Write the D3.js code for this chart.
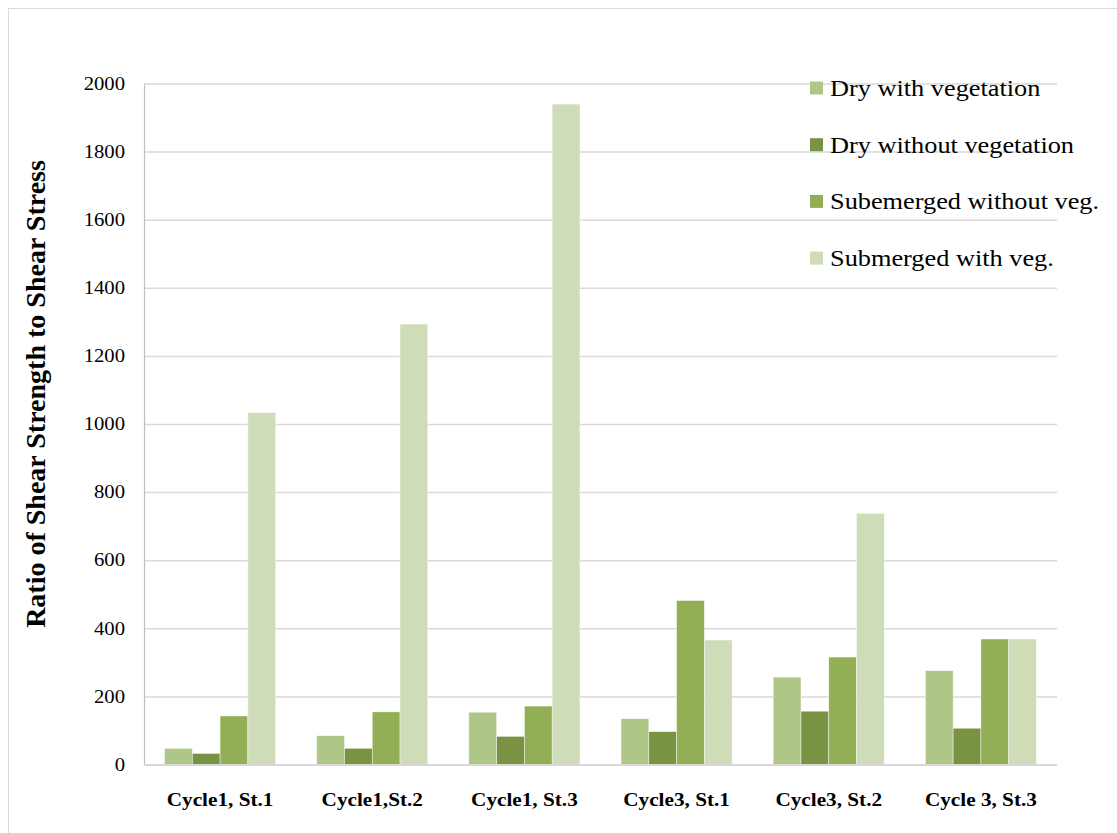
<!DOCTYPE html>
<html>
<head>
<meta charset="utf-8">
<script src="https://cdn.jsdelivr.net/npm/d3@7"></script>
<style>
  html, body { margin: 0; padding: 0; background: #fff; }
  svg text { font-family: "Liberation Serif", "Times New Roman", serif; fill: #000; }
</style>
</head>
<body>
<svg id="chart" width="1117" height="833"></svg>
<script>
// Sites / cycles on the x axis
const categories = ["Cycle1, St.1", "Cycle1,St.2", "Cycle1, St.3", "Cycle3, St.1", "Cycle3, St.2", "Cycle 3, St.3"];

// Series names (legend order = bar order within a group)
const seriesNames = ["Dry with vegetation", "Dry without vegetation", "Subemerged without veg.", "Submerged with veg."];

// Ratio of shear strength to shear stress, one array per series
const dryWithVeg       = [49, 86, 155, 136, 258, 277];
const dryWithoutVeg    = [34, 49, 84, 98, 158, 108];
const subWithoutVeg    = [144, 156, 173, 483, 317, 370];
const subWithVeg       = [1035, 1295, 1941, 367, 739, 370];

const yTicks = [0, 200, 400, 600, 800, 1000, 1200, 1400, 1600, 1800, 2000];

const seriesValues = [dryWithVeg, dryWithoutVeg, subWithoutVeg, subWithVeg];
const colors = ["#aec686", "#7a9343", "#92af55", "#cedcb7"];

const serif = '"Liberation Serif", "Times New Roman", serif';
const svg = d3.select("#chart");

// outer frame
svg.append("rect")
  .attr("x", 8.5).attr("y", 8.5)
  .attr("width", 1130).attr("height", 840)
  .attr("fill", "none").attr("stroke", "#d9d9d9").attr("stroke-width", 1);

const plot = { left: 144, right: 1057, top: 84, bottom: 765 };

const x0 = d3.scaleBand().domain(categories).range([plot.left, plot.right]).padding(0);
const groupWidth = x0.bandwidth() * 0.73;
const x1 = d3.scaleBand().domain(d3.range(seriesNames.length)).range([0, groupWidth]).padding(0);
const y = d3.scaleLinear().domain([0, 2000]).range([plot.bottom, plot.top]);

// horizontal gridlines
svg.append("g")
  .selectAll("line")
  .data(yTicks.filter(t => t > 0))
  .join("line")
  .attr("x1", plot.left).attr("x2", plot.right)
  .attr("y1", d => y(d)).attr("y2", d => y(d))
  .attr("stroke", "#d9d9d9").attr("stroke-width", 1.5);

// y axis: vertical line plus tick labels
const yAxis = d3.axisLeft(y).tickValues(yTicks).tickFormat(d3.format("d")).tickSize(0).tickPadding(16.5);
const gy = svg.append("g").attr("transform", `translate(${plot.left},0)`).call(yAxis);
gy.attr("font-family", serif);
gy.select(".domain").attr("stroke", "#bfbfbf").attr("stroke-width", 1.2);
gy.selectAll("text").style("font-family", serif).attr("font-size", 18);
gy.selectAll(".tick").attr("transform", d => `translate(0,${y(d)}) scale(1.15,1)`);

// bars
const groups = svg.append("g")
  .selectAll("g")
  .data(categories)
  .join("g")
  .attr("transform", d => `translate(${x0(d) + (x0.bandwidth() - groupWidth) / 2},0)`);

groups.selectAll("rect")
  .data((d, i) => seriesValues.map((vals, s) => ({ s, v: vals[i] })))
  .join("rect")
  .attr("x", d => x1(d.s))
  .attr("width", x1.bandwidth())
  .attr("y", d => y(d.v))
  .attr("height", d => y(0) - y(d.v))
  .attr("fill", d => colors[d.s])
  .attr("stroke", "#ffffff").attr("stroke-width", 0.6).attr("stroke-opacity", 0.7);

// x axis baseline
svg.append("line")
  .attr("x1", plot.left).attr("x2", plot.right)
  .attr("y1", plot.bottom).attr("y2", plot.bottom)
  .attr("stroke", "#d9d9d9").attr("stroke-width", 2);

// category labels
svg.append("g")
  .selectAll("text")
  .data(categories)
  .join("text")
  .attr("transform", d => `translate(${x0(d) + x0.bandwidth() / 2},806) scale(1.18,1)`)
  .attr("text-anchor", "middle")
  .attr("font-weight", "bold")
  .attr("font-size", 18)
  .style("font-family", serif)
  .text(d => d);

// y axis title
svg.append("text")
  .attr("transform", `translate(45,394) rotate(-90)`)
  .attr("text-anchor", "middle")
  .attr("font-weight", "bold")
  .attr("font-size", 28)
  .style("font-family", serif)
  .text("Ratio of Shear Strength to Shear Stress");

// legend
const legend = svg.append("g")
  .selectAll("g")
  .data(seriesNames)
  .join("g")
  .attr("transform", (d, i) => `translate(810,${88 + i * 56.7})`);

legend.append("rect")
  .attr("x", 0).attr("y", -6.5)
  .attr("width", 13).attr("height", 13)
  .attr("fill", (d, i) => colors[i]);

legend.append("text")
  .attr("transform", "translate(20,8) scale(1.17,1)")
  .attr("font-size", 22.5)
  .style("font-family", serif)
  .text(d => d);
</script>
</body>
</html>
